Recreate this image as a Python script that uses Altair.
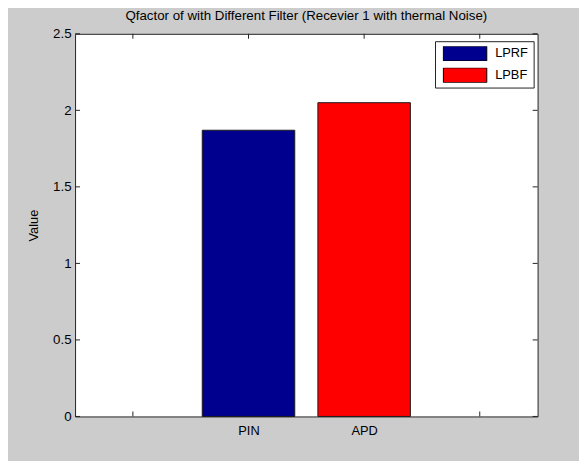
import json
import altair as alt
import pandas as pd

# ---- data ----
categories = ["PIN", "APD"]
filters = ["LPRF", "LPBF"]
values = [1.87, 2.05]
colors = ["#00008F", "#FF0000"]
x_ticks = [1, 2, 3, 4]
y_ticks = [0, 0.5, 1, 1.5, 2, 2.5]
title_text = "Qfactor of with Different Filter (Recevier 1 with thermal Noise)"
y_title = "Value"

W, H = 469, 388
FONT = "Liberation Sans"
FS = 13
EDGE = "#222222"

bars_df = pd.DataFrame({"category": categories, "filter": filters, "value": values})
xt_df = pd.DataFrame({"t": x_ticks})
yt_df = pd.DataFrame({"t": y_ticks})

x_scale = alt.Scale(domain=[0.5, 4.5], nice=False, zero=False)
y_scale = alt.Scale(domain=[0, 2.5], nice=False)

label_expr = f"{json.dumps(categories)}[datum.value - 2]"

x_axis = alt.Axis(values=[2, 3], labelExpr=label_expr, title=None,
                  ticks=False, domain=False, grid=False,
                  labelFont=FONT, labelFontSize=FS, labelColor="#000",
                  labelPadding=8)
y_axis = alt.Axis(values=y_ticks, labelExpr="'' + datum.value",
                  title=y_title, ticks=False, domain=False, grid=False,
                  labelFont=FONT, labelFontSize=13.5, labelColor="#000",
                  labelPadding=4, titleFont=FONT, titleFontSize=FS,
                  titleFontWeight="normal", titleColor="#000",
                  titlePadding=12)

tick_len = 5

xt_bottom = alt.Chart(xt_df).mark_rule(color=EDGE, strokeWidth=1).encode(
    x=alt.X("t:Q", scale=x_scale, axis=x_axis),
    y=alt.value(H), y2=alt.value(H - tick_len))
xt_top = alt.Chart(xt_df).mark_rule(color=EDGE, strokeWidth=1).encode(
    x=alt.X("t:Q", scale=x_scale, axis=x_axis),
    y=alt.value(0), y2=alt.value(tick_len))
yt_left = alt.Chart(yt_df).mark_rule(color=EDGE, strokeWidth=1).encode(
    y=alt.Y("t:Q", scale=y_scale, axis=y_axis),
    x=alt.value(0), x2=alt.value(tick_len))
yt_right = alt.Chart(yt_df).mark_rule(color=EDGE, strokeWidth=1).encode(
    y=alt.Y("t:Q", scale=y_scale, axis=y_axis),
    x=alt.value(W), x2=alt.value(W - tick_len))

bars = alt.Chart(bars_df).transform_window(
    idx="row_number()"
).transform_calculate(
    x0="datum.idx + 1 - 0.4", x1="datum.idx + 1 + 0.4"
).mark_bar(stroke="#1a1a1a", strokeWidth=1, opacity=1).encode(
    x=alt.X("x0:Q", scale=x_scale, axis=x_axis),
    x2="x1:Q",
    y=alt.Y("value:Q", scale=y_scale, axis=y_axis),
    y2=alt.datum(0),
    color=alt.Color("filter:N", scale=alt.Scale(domain=filters, range=colors),
                    legend=alt.Legend(
                        title=None, orient="none", legendX=365, legendY=7.5,
                        symbolType="M-1,-0.34L1,-0.34L1,0.34L-1,0.34Z",
                        symbolSize=1936, clipHeight=15,
                        symbolStrokeColor="#000", symbolStrokeWidth=1,
                        symbolOpacity=1, symbolOffset=3,
                        labelFont=FONT, labelFontSize=FS, labelColor="#000",
                        labelExpr="datum.label + '  '",
                        labelOffset=8, rowPadding=7, padding=5,
                        strokeColor=EDGE, fillColor="white")),
)

chart = alt.layer(xt_bottom, xt_top, yt_left, yt_right, bars).properties(
    width=W, height=H,
    title=alt.TitleParams(title_text, font=FONT, fontSize=13.5, fontWeight="normal",
                          color="#000", offset=5, anchor="middle"),
    background="#cccccc",
    padding={"left": 68, "top": 23, "right": 42, "bottom": 42},
    autosize=alt.AutoSizeParams(type="none"),
).configure_view(fill="white", stroke=EDGE, strokeWidth=1)

chart.save("out.html", embed_options={"renderer": "svg", "actions": False})
